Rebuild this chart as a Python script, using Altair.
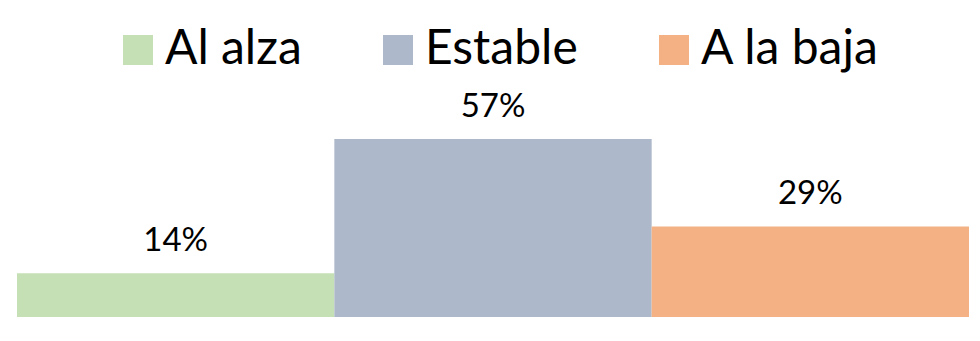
import altair as alt
import pandas as pd

categories = ["Al alza", "Estable", "A la baja"]
values = [14, 57, 29]
labels = ["14%", "57%", "29%"]
colors = ["#C5E0B4", "#ADB9CA", "#F4B183"]

df = pd.DataFrame({"cat": categories, "val": values, "lab": labels})

FONT = "Lato"

x = alt.X("cat:N", sort=categories, axis=None,
          scale=alt.Scale(paddingInner=0, paddingOuter=0))
y = alt.Y("val:Q", axis=None, scale=alt.Scale(domain=[0, 80], nice=False, zero=True))

bars = alt.Chart(df).mark_bar().encode(
    x=x, y=y,
    color=alt.Color("cat:N", sort=categories,
                    scale=alt.Scale(domain=categories, range=colors),
                    legend=alt.Legend(title=None, orient="none", direction="horizontal",
                                      legendX=97, legendY=-41, padding=0,
                                      symbolType="square", symbolSize=900,
                                      symbolStrokeWidth=0, symbolOpacity=1,
                                      labelFont=FONT, labelFontSize=48,
                                      labelColor="#000000", labelOffset=3,
                                      columnPadding=72, labelLimit=400)),
)

text = alt.Chart(df).mark_text(font=FONT, fontSize=33, color="#000000",
                               baseline="alphabetic", dy=-22).encode(
    x=x, y=y, text="lab:N"
)

chart = alt.layer(bars, text).properties(
    width=952, height=250,
    autosize=alt.AutoSizeParams(type="none"),
    padding={"left": 17, "top": 67, "right": 11, "bottom": 24},
    background="white",
).configure_view(strokeWidth=0, stroke=None)

chart.save("out.html", embed_options={"renderer": "svg", "actions": False})
